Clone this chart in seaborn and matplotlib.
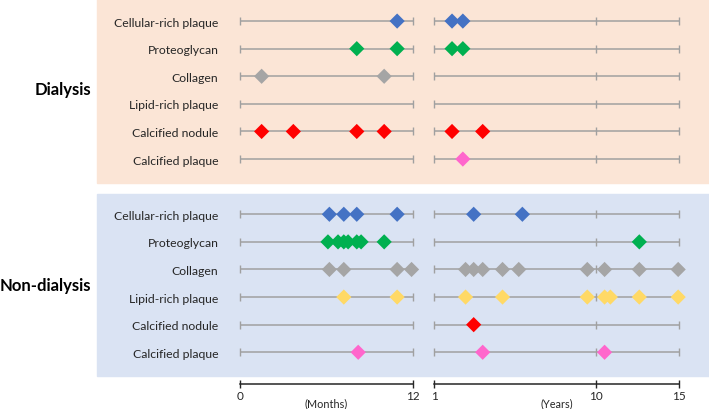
import numpy as np
import pandas as pd
import matplotlib.pyplot as plt
import seaborn as sns
from matplotlib.patches import Rectangle

# tissue rows (same order in both groups)
rows = ["Cellular-rich plaque", "Proteoglycan", "Collagen",
        "Lipid-rich plaque", "Calcified nodule", "Calcified plaque"]
row_colors = ["#4472C4", "#00B050", "#A5A5A5", "#FFD966", "#FF0000", "#FF66CC"]

# event times, one list per row
dialysis_months = [[10.9], [8.1, 10.9], [1.5, 10.0], [], [1.5, 3.7, 8.1, 10.0], []]
dialysis_years = [[2.0, 2.6], [2.0, 2.6], [], [], [2.0, 3.7], [2.6]]
nondialysis_months = [[6.2, 7.2, 8.1, 10.9],
                      [6.1, 6.8, 7.2, 7.5, 8.1, 8.4, 10.0],
                      [6.2, 7.2, 10.9, 11.9],
                      [7.2, 10.9], [], [8.2]]
nondialysis_years = [[3.2, 5.9], [12.6],
                     [2.75, 3.2, 3.7, 4.8, 5.7, 9.5, 10.5, 12.6, 14.95],
                     [2.75, 4.8, 9.5, 10.5, 10.85, 12.6, 14.95],
                     [3.2], [3.7, 10.5]]

groups = ["Dialysis", "Non-dialysis"]
month_ticks = [0, 12]
year_ticks = [1, 10, 15]


def to_frame(month_lists, year_lists, offset):
    recs = []
    for i, name in enumerate(rows):
        for v in month_lists[i]:
            recs.append(dict(row=name, pos=offset + i, unit="months", t=v))
        for v in year_lists[i]:
            recs.append(dict(row=name, pos=offset + i, unit="years", t=v))
    return recs


df = pd.DataFrame(to_frame(dialysis_months, dialysis_years, 0)
                  + to_frame(nondialysis_months, nondialysis_years, 7))
row_pos = list(range(6)) + list(range(7, 13))
palette = dict(zip(rows, row_colors))

sns.set_style("white")
plt.rcParams['font.family'] = ['Lato', 'DejaVu Sans']
plt.rcParams['text.color'] = "#262626"

W, H = 709, 410
fig = plt.figure(figsize=(W / 100, H / 100), dpi=100)

# coloured group panels (behind the axes)
fig.patches.append(Rectangle((97 / W, 1 - 184 / H), 612 / W, 184 / H,
                             transform=fig.transFigure, color="#FBE5D6", zorder=-5))
fig.patches.append(Rectangle((97 / W, 1 - 377 / H), 612 / W, 182 / H,
                             transform=fig.transFigure, color="#DAE3F3", zorder=-5))

ax_m = fig.add_axes([240 / W, 25 / H, 173 / W, 385 / H])
ax_y = fig.add_axes([434 / W, 25 / H, 245 / W, 385 / H])

# years axis is slightly compressed past 10
fwd = lambda x: np.interp(x, [1, 10, 15], [0, 9, 13.585], left=-1e9, right=1e9)
inv = lambda x: np.interp(x, [0, 9, 13.585], [1, 10, 15])
ax_y.set_xscale("function", functions=(fwd, inv))

line_col = "#A0A0A0"
for ax, unit, ticks in [(ax_m, "months", month_ticks), (ax_y, "years", year_ticks)]:
    ax.set_facecolor("none")
    ax.hlines(row_pos, ticks[0], ticks[-1], color=line_col, lw=1.1, zorder=1)
    for t in ticks:
        ax.plot([t] * len(row_pos), row_pos, ls="none", marker="|", ms=6,
                mew=1, color=line_col, zorder=1, clip_on=False)
    sub = df[df["unit"] == unit]
    sns.scatterplot(data=sub, x="t", y="pos", hue="row", palette=palette,
                    marker="D", s=60, edgecolor="none", legend=False,
                    ax=ax, zorder=3, clip_on=False)
    ax.set_xlim(ticks[0], ticks[-1])
    ax.set_ylim(13.15, -0.8)
    ax.set_xticks(ticks)
    ax.tick_params(axis="x", bottom=True, direction="inout", length=6, width=1,
                   labelsize=8.5, pad=1, color="#262626", labelcolor="#262626")
    for s in ["top", "right", "left"]:
        ax.spines[s].set_visible(False)
    ax.spines["bottom"].set_color("#262626")
    ax.spines["bottom"].set_linewidth(1.1)
    ax.set_ylabel("")

ax_m.set_yticks(row_pos)
ax_m.set_yticklabels(rows * 2, fontsize=8.8)
ax_m.tick_params(axis="y", length=0, pad=15.5, labelcolor="#262626")
ax_y.set_yticks([])

ax_m.set_xlabel("(Months)", fontsize=7.8, labelpad=-2.5)
ax_y.set_xlabel("(Years)", fontsize=7.8, labelpad=-2.5)

fig.text(91 / W, 1 - 90 / H, groups[0], ha="right", va="center",
         fontsize=12, fontweight="bold", color="black")
fig.text(91 / W, 1 - 286 / H, groups[1], ha="right", va="center",
         fontsize=12, fontweight="bold", color="black")

plt.savefig("out.png", dpi=100)
